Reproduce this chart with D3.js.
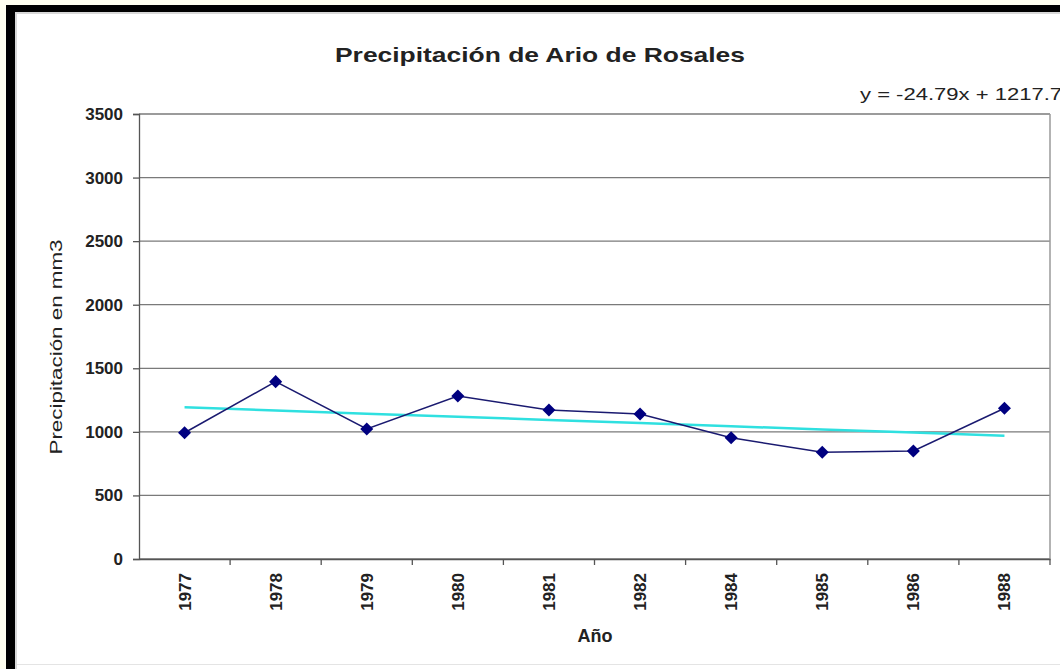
<!DOCTYPE html>
<html>
<head>
<meta charset="utf-8">
<script src="https://cdn.jsdelivr.net/npm/d3@7"></script>
<style>
  html, body { margin: 0; padding: 0; background: #fffff0; }
  svg { display: block; font-family: Arial, "Liberation Sans", sans-serif; }
</style>
</head>
<body>
<svg class="chart" width="1060" height="669"></svg>
<script>
const years = ['1977','1978','1979','1980','1981','1982','1984','1985','1986','1988']
const precip = [993, 1395, 1023, 1282, 1172, 1141, 954, 839, 850, 1186]
const yTicks = [0, 500, 1000, 1500, 2000, 2500, 3000, 3500]
const trendSlope = -24.79
const trendIntercept = 1217.7

const svg = d3.select('.chart')
const width = +svg.attr('width')
const height = +svg.attr('height')

// frame: black top and left edges, white sheet inside
svg.append('rect')
  .attr('x', 6).attr('y', 5)
  .attr('width', width).attr('height', height)
  .attr('fill', 'black')
svg.append('rect')
  .attr('x', 15).attr('y', 12)
  .attr('width', width).attr('height', height)
  .attr('fill', '#d8d8d8')
svg.append('rect')
  .attr('x', 17).attr('y', 14)
  .attr('width', width).attr('height', height)
  .attr('fill', 'white')
svg.append('line')
  .attr('x1', 17).attr('x2', width)
  .attr('y1', 664.5).attr('y2', 664.5)
  .attr('stroke', '#e4e4e4')

const plotLeft = 139, plotRight = 1050, plotTop = 114, plotBottom = 559

const x = d3.scaleBand().domain(years).range([plotLeft, plotRight])
const y = d3.scaleLinear().domain([0, 3500]).range([plotBottom, plotTop])

// gridlines
svg.append('g')
  .selectAll('line')
  .data(yTicks)
  .join('line')
  .attr('x1', plotLeft).attr('x2', plotRight)
  .attr('y1', d => y(d)).attr('y2', d => y(d))
  .attr('stroke', '#7a7a7a')
  .attr('stroke-width', 1.3)

// right border of plot area
svg.append('line')
  .attr('x1', plotRight).attr('x2', plotRight)
  .attr('y1', plotTop).attr('y2', plotBottom)
  .attr('stroke', '#9a9a9a')
  .attr('stroke-width', 1.5)

// y axis
const yAxis = svg.append('g')
  .attr('transform', `translate(${plotLeft},0)`)
  .call(d3.axisLeft(y).tickValues(yTicks).tickFormat(d3.format('d')).tickSize(6).tickPadding(10))
yAxis.select('.domain').attr('stroke', '#555').attr('stroke-width', 1.3)
yAxis.selectAll('.tick line').attr('stroke', '#555').attr('stroke-width', 1.3)
yAxis.selectAll('.tick text')
  .attr('font-size', 17)
  .attr('font-weight', 'bold')
  .attr('font-family', 'Arial, "Liberation Sans", sans-serif')
  .attr('fill', '#222')

// x axis
const xAxis = svg.append('g')
  .attr('transform', `translate(0,${plotBottom})`)
  .call(d3.axisBottom(x).tickSize(0).tickFormat(''))
xAxis.select('.domain').attr('stroke', '#555').attr('stroke-width', 1.3)
svg.append('g')
  .selectAll('line')
  .data(years)
  .join('line')
  .attr('x1', d => x(d) + x.bandwidth())
  .attr('x2', d => x(d) + x.bandwidth())
  .attr('y1', plotBottom).attr('y2', plotBottom + 6)
  .attr('stroke', '#555')
  .attr('stroke-width', 1.3)

svg.append('g')
  .selectAll('text')
  .data(years)
  .join('text')
  .attr('transform', d => `translate(${x(d) + x.bandwidth() / 2},573) rotate(-90)`)
  .attr('text-anchor', 'end')
  .attr('dy', '0.35em')
  .attr('font-size', 17)
  .attr('font-weight', 'bold')
  .attr('fill', '#222')
  .text(d => d)

const cx = (d, i) => x(years[i]) + x.bandwidth() / 2

// trend line
const trend = years.map((d, i) => trendSlope * (i + 1) + trendIntercept)
svg.append('path')
  .datum(trend)
  .attr('d', d3.line().x(cx).y(d => y(d)))
  .attr('fill', 'none')
  .attr('stroke', '#2fe0e0')
  .attr('stroke-width', 2.5)

// data line
svg.append('path')
  .datum(precip)
  .attr('d', d3.line().x(cx).y(d => y(d)))
  .attr('fill', 'none')
  .attr('stroke', '#1a1a70')
  .attr('stroke-width', 1.5)

svg.append('g')
  .selectAll('path')
  .data(precip)
  .join('path')
  .attr('d', d3.symbol().type(d3.symbolSquare).size(85))
  .attr('transform', (d, i) => `translate(${cx(d, i)},${y(d)}) rotate(45)`)
  .attr('fill', '#000080')

// texts
svg.append('text')
  .attr('x', 540).attr('y', 62)
  .attr('text-anchor', 'middle')
  .attr('font-size', 21)
  .attr('font-weight', 'bold')
  .attr('fill', '#222')
  .attr('textLength', 410)
  .attr('lengthAdjust', 'spacingAndGlyphs')
  .text('Precipitación de Ario de Rosales')

svg.append('text')
  .attr('x', 860).attr('y', 100)
  .attr('font-size', 17)
  .attr('fill', '#222')
  .attr('textLength', 202)
  .attr('lengthAdjust', 'spacingAndGlyphs')
  .text('y = -24.79x + 1217.7')

svg.append('text')
  .attr('transform', 'translate(62,347) rotate(-90)')
  .attr('text-anchor', 'middle')
  .attr('font-size', 16)
  .attr('fill', '#222')
  .attr('textLength', 215)
  .attr('lengthAdjust', 'spacingAndGlyphs')
  .text('Precipitación  en mm3')

svg.append('text')
  .attr('x', 595).attr('y', 642)
  .attr('text-anchor', 'middle')
  .attr('font-size', 18)
  .attr('font-weight', 'bold')
  .attr('fill', '#222')
  .text('Año')
</script>
</body>
</html>
